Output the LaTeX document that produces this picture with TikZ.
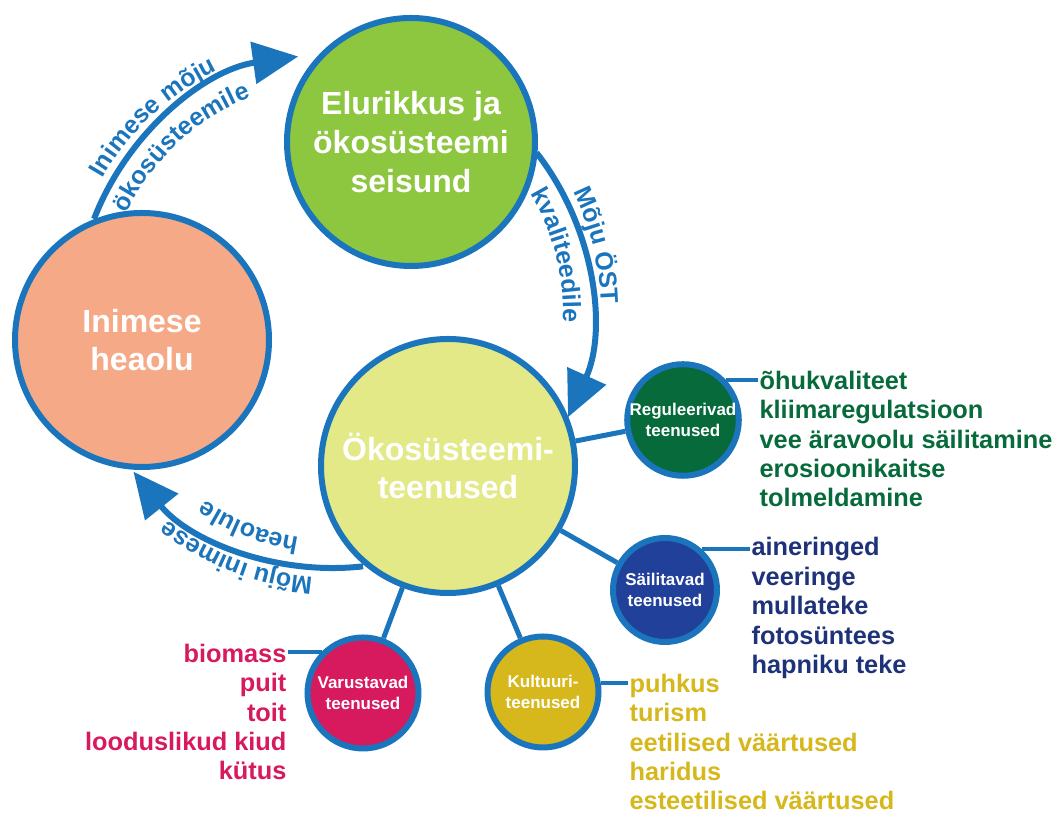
\documentclass[tikz,border=0pt]{standalone}
\usepackage{fontspec}
\setmainfont{Liberation Sans}
\usetikzlibrary{arrows.meta,decorations.text}

\definecolor{ringblue}{RGB}{27,117,188}
\definecolor{leafgreen}{RGB}{141,198,63}
\definecolor{salmon}{RGB}{246,169,134}
\definecolor{paleyellow}{RGB}{227,233,135}
\definecolor{reggreen}{RGB}{6,106,58}
\definecolor{saiblue}{RGB}{33,64,154}
\definecolor{saitext}{RGB}{30,50,122}
\definecolor{kulyellow}{RGB}{214,183,28}
\definecolor{varred}{RGB}{215,25,94}

\newcommand{\arcfont}{\bfseries\fontsize{18.75}{20}\selectfont\color{ringblue}}

\begin{document}
\begin{tikzpicture}[x=0.75pt,y=0.75pt,>={Triangle[length=34pt,width=31pt]},
                    big/.style={circle,draw=ringblue,line width=4.5pt,inner sep=0pt,
                      minimum size=#1*1.5pt,text=white,align=center,
                      font=\bfseries\fontsize{24}{29}\selectfont},
                    small/.style={circle,draw=ringblue,line width=4.5pt,inner sep=0pt,
                      minimum size=#1*1.5pt,text=white,align=center,
                      font=\bfseries\fontsize{12.75}{15.75}\selectfont},
                    list/.style={inner sep=1pt,font=\bfseries\fontsize{19}{22.1}\selectfont},
                    link/.style={draw=ringblue,line width=3.75pt},
                    tick/.style={draw=ringblue,line width=3pt},
                    roundarrow/.style={draw=ringblue,line width=4.5pt,->},
                    arclabel/.style={decorate,decoration={text along path,
                      text={|\arcfont|#1},text align=center}}]

	\useasboundingbox (0,0) rectangle (1061,816);
	\coordinate (cyc) at (334,505);

  	\node[big=124,fill=leafgreen](eco) at (411,674)   	{Elurikkus ja\\ökosüsteemi\\seisund};
  	\node[big=127,fill=salmon](hea) at (142,476)     	{Inimese\\heaolu};
  	\node[big=127,fill=paleyellow](ost) at (448,350) 	{Ökosüsteemi-\\teenused};

  	\node[small=52.5,fill=reggreen](reg) at (683,396) 	{Reguleerivad\\teenused};
  	\node[small=52,fill=saiblue](sai) at (665,226)    	{Säilitavad\\teenused};
  	\node[small=55.5,fill=kulyellow](kul) at (543,124)	{Kultuuri-\\teenused};
  	\node[small=55.5,fill=varred](var) at (363,123)   	{Varustavad\\teenused};

  	\node[list,align=left,anchor=west,text=reggreen](regtxt) at (758,377)
  		{õhukvaliteet\\kliimaregulatsioon\\vee äravoolu säilitamine\\erosioonikaitse\\tolmeldamine};
  	\node[list,align=left,anchor=west,text=saitext](saitxt) at (750,208)
  		{aineringed\\veeringe\\mullateke\\fotosüntees\\hapniku teke};
  	\node[list,align=left,anchor=west,text=kulyellow](kultxt) at (628,74)
  		{puhkus\\turism\\eetilised väärtused\\haridus\\esteetilised väärtused};
  	\node[list,align=right,anchor=east,text=varred](vartxt) at (288,104)
  		{biomass\\puit\\toit\\looduslikud kiud\\kütus};

  	\path (ost) edge[link] (reg);
  	\path (ost) edge[link] (sai);
  	\path (ost) edge[link] (kul);
  	\path (ost) edge[link] (var);

  	\path (reg.43) edge[tick] (reg.43 -| regtxt.west);
  	\path (sai.48) edge[tick] (sai.48 -| saitxt.west);
  	\path (kul.9) edge[tick] (kul.9 -| kultxt.west);
  	\path (var.135) edge[tick] (var.135 -| vartxt.east);

	\draw[roundarrow] ([shift={(159:257)}]cyc) arc[start angle=159,end angle=98,radius=257];
	\draw[roundarrow] ([shift={(38:257)}]cyc) arc[start angle=38,end angle=-24.4,radius=257];
	\draw[roundarrow] ([shift={(-83.5:257)}]cyc) arc[start angle=-83.5,end angle=-141.3,radius=257];

	\path[arclabel={Inimese mõju}] ([shift={(160:267)}]cyc) arc[start angle=160,end angle=106,radius=267];
	\path[arclabel={ökosüsteemile}] ([shift={(160:229)}]cyc) arc[start angle=160,end angle=106,radius=229];
	\path[arclabel={Mõju ÖST}] ([shift={(37:267)}]cyc) arc[start angle=37,end angle=-9,radius=267];
	\path[arclabel={kvaliteedile}] ([shift={(37:229)}]cyc) arc[start angle=37,end angle=-9,radius=229];
	\path[arclabel={Mõju inimese}] ([shift={(-88:267)}]cyc) arc[start angle=-88,end angle=-135,radius=267];
	\path[arclabel={heaolule}] ([shift={(-88:229)}]cyc) arc[start angle=-88,end angle=-135,radius=229];

\end{tikzpicture}
\end{document}
